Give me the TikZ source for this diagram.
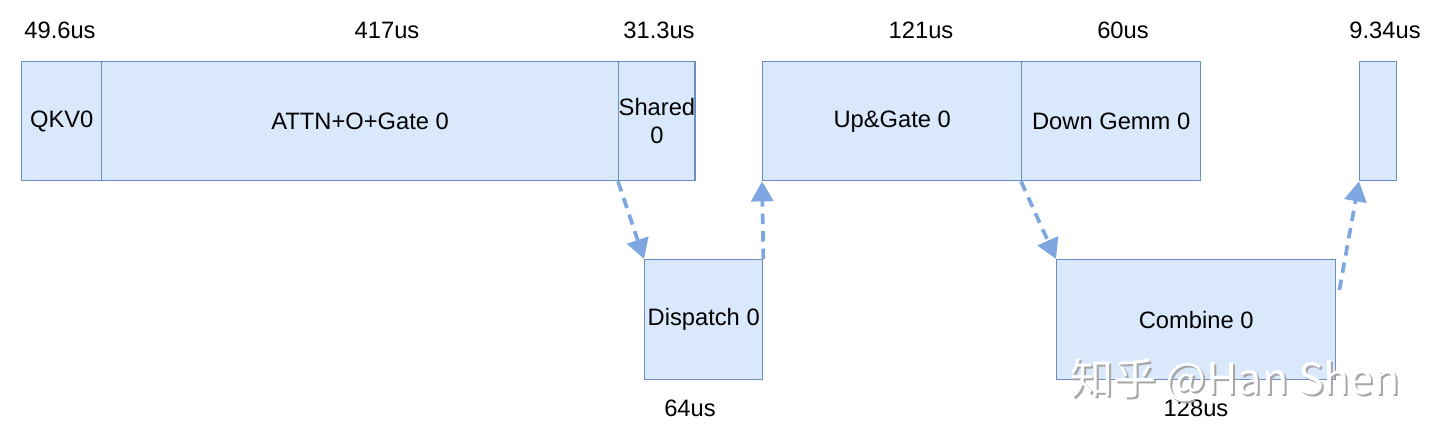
\documentclass[tikz,border=0pt]{standalone}
\usepackage{fontspec}
\setmainfont{Liberation Sans}
\newfontfamily\cjk{Noto Sans CJK SC}
\usetikzlibrary{arrows.meta}
\definecolor{boxfill}{HTML}{DAE8FC}
\definecolor{boxline}{HTML}{6C8EBF}
\definecolor{flow}{HTML}{7EA6E0}

\begin{document}
\begin{tikzpicture}[x=0.02cm,y=-0.02cm,
        font=\fontsize{13.5}{16.3}\selectfont,
        box/.style={draw=boxline,line width=0.8pt,fill=boxfill,inner sep=0pt,
            anchor=north west,minimum height=2.38cm,align=center},
        hop/.style={draw=flow,line width=2.1pt,dash pattern=on 0.21cm off 0.14cm,
            -{Triangle[length=0.4cm,width=0.44cm]}}]
            \useasboundingbox (0,0) rectangle (1440,440);
            % top row
            \node[box,minimum width=1.6cm] (qkv) at (21,61) {QKV0};
            \node[box,minimum width=10.34cm] (attn) at (101,61) {ATTN+O+Gate 0};
            \node[box,minimum width=1.52cm] (shared) at (618,61) {Shared\\0};
            \node[box,minimum width=5.18cm] (up) at (762,61) {Up\&Gate 0};
            \node[box,minimum width=3.58cm] (down) at (1021,61) {Down Gemm 0};
            \node[box,minimum width=0.74cm] (tail) at (1359,61) {};
            % bottom row
            \node[box,minimum width=2.36cm,minimum height=2.4cm] (disp) at (644,259) {Dispatch 0};
            \node[box,minimum width=5.58cm,minimum height=2.4cm] (comb) at (1056,259) {Combine 0};
            % timings
            \node (tqkv) at (60,30) {49.6us};
            \node (tattn) at (387,30) {417us};
            \node (tshared) at (659,30) {31.3us};
            \node (tup) at (921,30) {121us};
            \node (tdown) at (1123,30) {60us};
            \node (ttail) at (1385,30) {9.34us};
            \node (tdisp) at (690,408) {64us};
            \node (tcomb) at (1196,408) {128us};
            % hand-offs
            \draw[hop] (shared.south west) -- (disp.north west);
            \draw[hop] (disp.north east) -- (up.south west);
            \draw[hop] (down.south west) -- (comb.north west);
            \draw[hop] ([shift={(3,31)}]comb.north east) -- (tail.south west);
            % watermark
            \node[text=black!35,font=\cjk\fontsize{24.5}{28}\selectfont] (markshadow) at (1237,382) {知乎 @Han Shen};
            \node[text=white,font=\cjk\fontsize{24.5}{28}\selectfont] (mark) at (1235,380) {知乎 @Han Shen};
        \end{tikzpicture}
\end{document}
